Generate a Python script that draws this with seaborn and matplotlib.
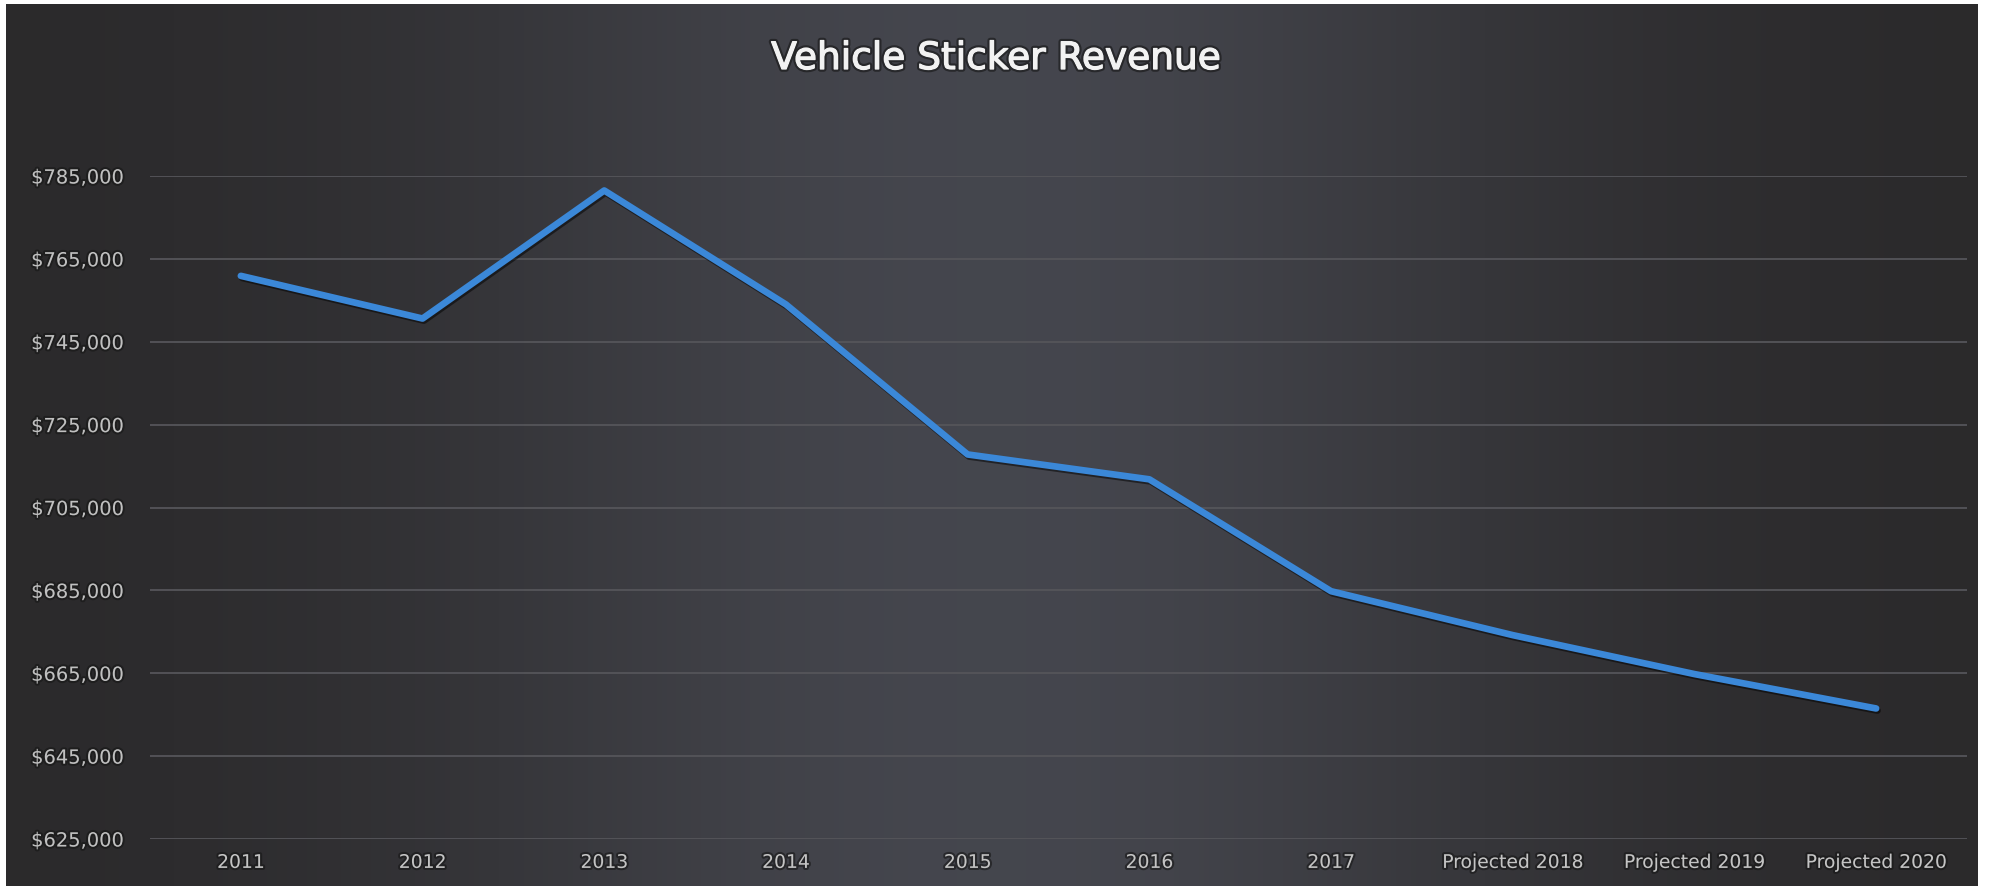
import numpy as np
import pandas as pd
import matplotlib
matplotlib.use("Agg")
import matplotlib.pyplot as plt
import matplotlib.patheffects as pe
from matplotlib.ticker import FuncFormatter
import seaborn as sns

# valores
anos = ['2011', '2012', '2013', '2014', '2015', '2016', '2017',
        'Projected 2018', 'Projected 2019', 'Projected 2020']
receita = [760900, 750600, 781500, 754000, 717800, 711800, 684800,
           674200, 664800, 656500]
ticks_y = [625000, 645000, 665000, 685000, 705000, 725000, 745000, 765000, 785000]

sns.set_style("dark")
plt.rcParams['font.family'] = ['DejaVu Sans']

dados = pd.DataFrame({'ano': anos, 'receita': receita})

fig = plt.figure(figsize=(19.98, 8.95), dpi=100)
fig.patch.set_facecolor('white')

# fundo escuro com gradiente horizontal
fundo = fig.add_axes([6 / 1998, 1 - 887 / 895, 1971 / 1998, 882 / 895])
fundo.set_axis_off()
xs = np.linspace(0, 1, 400)
perfil = np.exp(-((xs - 0.5) / 0.28) ** 2)
escuro = np.array([0.165, 0.16, 0.165])
claro = np.array([0.27, 0.275, 0.305])
img = escuro[None, :] + perfil[:, None] * (claro - escuro)[None, :]
fundo.imshow(img[None, :, :], aspect='auto', extent=[0, 1, 0, 1])

ax = fig.add_axes([150 / 1998, 1 - 840 / 895, 1817 / 1998, 663 / 895])
ax.patch.set_alpha(0)

sombra = [pe.withStroke(linewidth=3, foreground='#161616', alpha=0.6)]

sns.lineplot(data=dados, x='ano', y='receita', ax=ax, color='#3b88d8',
             linewidth=4.8, sort=False,
             path_effects=[pe.SimpleLineShadow(offset=(1, -1.5), alpha=0.5), pe.Normal()])

ax.set_xlim(-0.5, len(anos) - 0.5)
ax.set_ylim(ticks_y[0], ticks_y[-1])
ax.set_yticks(ticks_y)
ax.yaxis.set_major_formatter(FuncFormatter(lambda v, p: f"${v:,.0f}"))
ax.grid(axis='y', color='#55555a', linewidth=1.3)
ax.grid(axis='x', visible=False)
ax.set_xlabel('')
ax.set_ylabel('')
for lado in ax.spines.values():
    lado.set_visible(False)
ax.tick_params(axis='y', length=0, pad=19, labelsize=14, labelcolor='#c0c0c0')
ax.tick_params(axis='x', length=0, pad=10, labelsize=13.5, labelcolor='#c4c4c4')
for rotulo in ax.get_xticklabels() + ax.get_yticklabels():
    rotulo.set_path_effects(sombra)

fig.text(0.4985, 1 - 60 / 895, 'Vehicle Sticker Revenue', ha='center', va='center',
         fontsize=27, color='#f2f2f2',
         path_effects=[pe.withStroke(linewidth=4, foreground='#151515', alpha=0.6),
                       pe.withStroke(linewidth=0.9, foreground='#f2f2f2')])

fig.savefig('out.png', dpi=100, facecolor=fig.get_facecolor())
